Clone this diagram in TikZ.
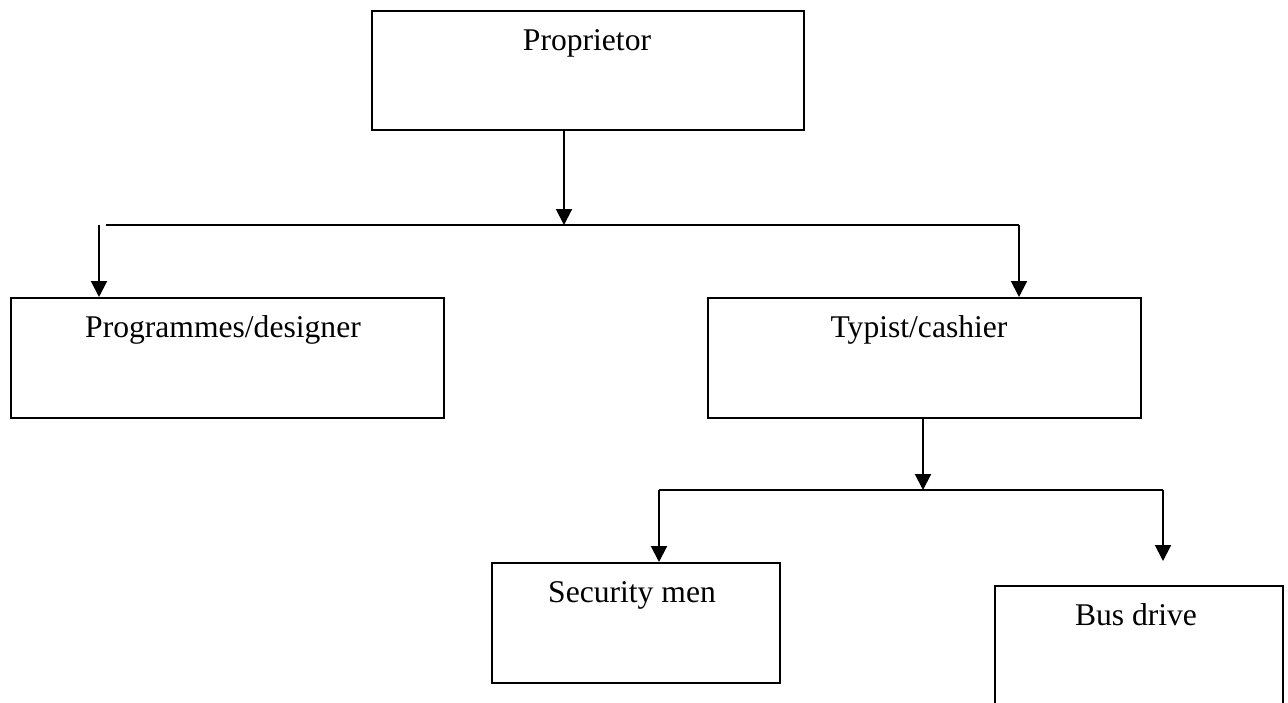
\documentclass[tikz,border=0pt]{standalone}
\usepackage{fontspec}
\setmainfont{Liberation Serif}
\usetikzlibrary{arrows.meta}
\begin{document}
\begin{tikzpicture}[x=1pt,y=-1pt,
  box/.style={draw=black,line width=2pt,rectangle,inner sep=0pt,anchor=north west},
  lbl/.style={anchor=base,inner sep=0pt,font=\fontsize{31.6}{38}\selectfont},
  conn/.style={line width=2pt,black},
  arr/.style={conn,-{Triangle[length=16pt,width=16pt]}}]
\useasboundingbox (0,0) rectangle (1288,702);
% boxes
\node[box,minimum width=432pt,minimum height=119pt] (prop) at (371,10) {};
\node[box,minimum width=433pt,minimum height=120pt] (prog) at (10,297) {};
\node[box,minimum width=433pt,minimum height=120pt] (typ) at (707,297) {};
\node[box,minimum width=288pt,minimum height=120pt] (sec) at (491,562) {};
\node[inner sep=0pt,minimum width=288pt,minimum height=130pt,anchor=north west] (bus) at (995,586) {};
\draw[conn] (bus.south west) -- (bus.north west) -- (bus.north east) -- (bus.south east);
% labels
\node[lbl] (tprop) at (587,50) {Proprietor};
\node[lbl] (tprog) at (223,337) {Programmes/designer};
\node[lbl] (ttyp) at (919,337) {Typist/cashier};
\node[lbl] (tsec) at (632,602) {Security men};
\node[lbl] (tbus) at (1136,625) {Bus drive};
% junctions
\coordinate (j1) at (564,225);
\coordinate (h1a) at (106,225);
\coordinate (h1b) at (1019,225);
\coordinate (v1) at (99,225);
\coordinate (j2) at (923,490);
\coordinate (h2a) at (659,490);
\coordinate (h2b) at (1163,490);
\coordinate (busin) at (1163,561);
% connectors
\draw[arr] (prop.south -| j1) -- (j1);
\draw[conn] (h1a) -- (h1b);
\draw[arr] (h1b) -- (h1b |- typ.north);
\draw[arr] (v1) -- (v1 |- prog.north);
\draw[arr] (typ.south -| j2) -- (j2);
\draw[conn] (h2a) -- (h2b);
\draw[arr] (h2a) -- (h2a |- sec.north);
\draw[arr] (h2b) -- (busin);
\end{tikzpicture}
\end{document}
